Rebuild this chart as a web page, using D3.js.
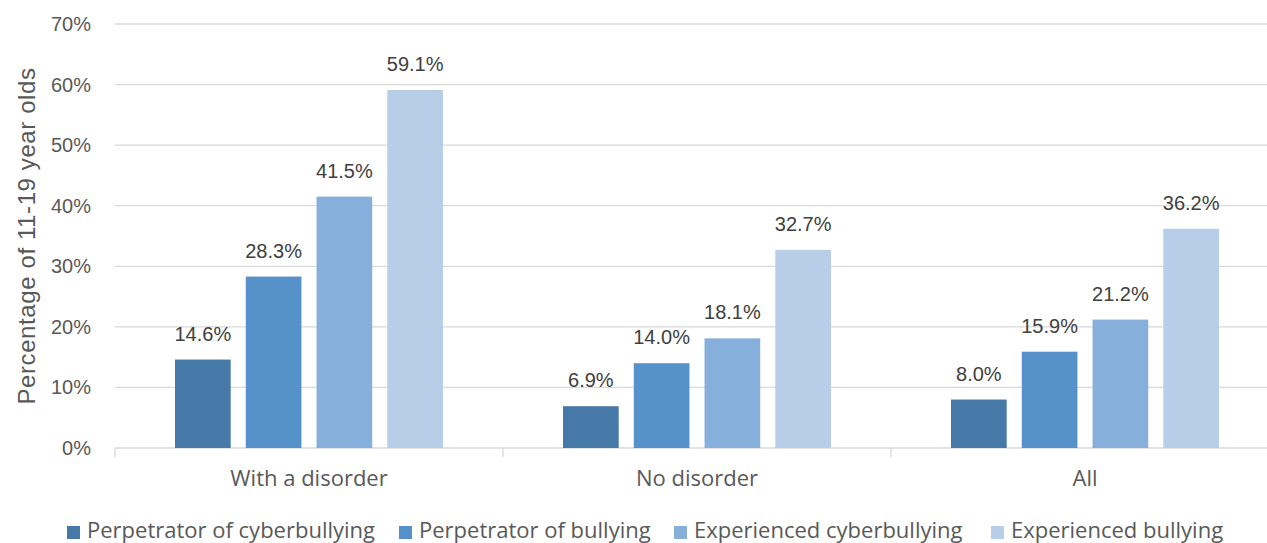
<!DOCTYPE html>
<html><head><meta charset="utf-8">
<script src="https://cdn.jsdelivr.net/npm/d3@7"></script>
<style>body{margin:0;background:#fff}svg{display:block}</style>
</head><body><svg id="c" width="1267" height="543"></svg>
<script>
const categories = ["With a disorder", "No disorder", "All"];
const series = ["Perpetrator of cyberbullying", "Perpetrator of bullying", "Experienced cyberbullying", "Experienced bullying"];
const perpCyber = [14.6, 6.9, 8.0];
const perpBully = [28.3, 14.0, 15.9];
const expCyber = [41.5, 18.1, 21.2];
const expBully = [59.1, 32.7, 36.2];
const yTicks = [0, 10, 20, 30, 40, 50, 60, 70];
const colors = ["#4779a8", "#5692c9", "#86afdb", "#b8cde8"];
const values = [perpCyber, perpBully, expCyber, expBully];

const font = "'Liberation Sans', Arial, sans-serif";
const font2 = "'Open Sans', sans-serif";
const txt = "#595959";
const svg = d3.select("#c");
const x = d3.scaleBand().domain(categories).range([115, 1279]).padding(0);
const x1 = d3.scaleBand().domain(series).range([60, x.bandwidth() - 60]).paddingInner(0.213);
const y = d3.scaleLinear().domain([0, 70]).range([448, 24]);

// gridlines
svg.append("g").selectAll("line").data(yTicks).join("line")
  .attr("x1", 115).attr("x2", 1279)
  .attr("y1", d => y(d)).attr("y2", d => y(d))
  .attr("stroke", "#d9d9d9").attr("stroke-width", 1.3);

// y labels
svg.append("g").selectAll("text").data(yTicks).join("text")
  .attr("x", 91).attr("y", d => y(d)).attr("dy", "0.35em")
  .attr("text-anchor", "end").attr("font-family", font).attr("font-size", 20)
  .attr("fill", txt).text(d => d + "%");

// x axis tick marks
const bounds = categories.map(c => x(c)).concat([x(categories[2]) + x.bandwidth()]);
svg.append("g").selectAll("line").data(bounds).join("line")
  .attr("x1", d => d).attr("x2", d => d).attr("y1", 448).attr("y2", 457)
  .attr("stroke", "#d9d9d9").attr("stroke-width", 1.3);

// bars
const g = svg.append("g");
series.forEach((s, si) => {
  categories.forEach((c, ci) => {
    const v = values[si][ci];
    const bx = x(c) + x1(s);
    g.append("rect").attr("x", bx).attr("y", y(v))
      .attr("width", x1.bandwidth()).attr("height", y(0) - y(v))
      .attr("fill", colors[si]);
    g.append("text").attr("x", bx + x1.bandwidth() / 2).attr("y", y(v) - 19)
      .attr("text-anchor", "middle").attr("font-family", font).attr("font-size", 20)
      .attr("fill", "#404040").text(v.toFixed(1) + "%");
  });
});

// category labels
svg.append("g").selectAll("text").data(categories).join("text")
  .attr("x", d => x(d) + x.bandwidth() / 2).attr("y", 486)
  .attr("text-anchor", "middle").attr("font-family", font2).attr("font-size", 22)
  .attr("fill", txt).text(d => d);

// y title
svg.append("text").attr("transform", "translate(27,236) rotate(-90)")
  .attr("text-anchor", "middle").attr("dy", "0.35em").attr("font-family", font)
  .attr("font-size", 24).attr("letter-spacing", 0.6).attr("fill", txt).text("Percentage of 11-19 year olds");

// legend
const legX = [67, 399, 674, 991];
const leg = svg.append("g");
series.forEach((s, i) => {
  leg.append("rect").attr("x", legX[i]).attr("y", 526).attr("width", 13).attr("height", 13).attr("fill", colors[i]);
  leg.append("text").attr("x", legX[i] + 20).attr("y", 538)
    .attr("font-family", font2).attr("font-size", 22).attr("fill", txt).text(s);
});
</script></body></html>
